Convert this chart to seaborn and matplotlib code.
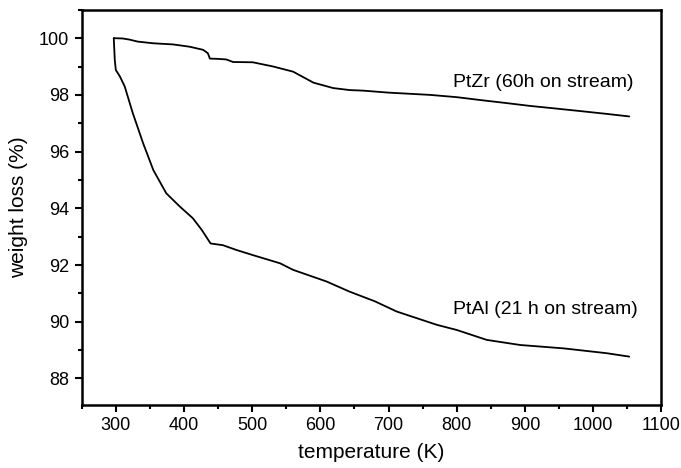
import seaborn as sns
import matplotlib.pyplot as plt
import pandas as pd
from matplotlib.ticker import MultipleLocator

# PtZr (60h on stream)
ptzr_T = [297, 310, 320, 332, 355, 384, 408, 428, 435, 438, 450, 462, 472, 501, 531, 560,
          590, 619, 643, 663, 700, 761, 800, 834, 870, 908, 945, 981, 1020, 1053]
ptzr_w = [100.0, 99.99, 99.95, 99.88, 99.82, 99.78, 99.70, 99.59, 99.47, 99.28, 99.27, 99.25, 99.16,
          99.15, 99.0, 98.82, 98.43, 98.24, 98.17, 98.15, 98.08, 98.0, 97.92, 97.82, 97.72,
          97.61, 97.52, 97.43, 97.33, 97.24]

# PtAl (21 h on stream)
ptal_T = [297, 298.5, 300, 306, 313, 325, 340, 355, 374, 394, 413, 426, 439, 457, 477, 501,
          541, 560, 609, 643, 680, 712, 771, 800, 844, 893, 957, 1020, 1053]
ptal_w = [100.0, 99.23, 98.88, 98.65, 98.3, 97.35, 96.3, 95.35, 94.53, 94.06, 93.65, 93.24,
          92.76, 92.70, 92.53, 92.35, 92.06, 91.83, 91.42, 91.06, 90.72, 90.36, 89.89,
          89.71, 89.36, 89.18, 89.06, 88.89, 88.77]

df = pd.concat([
    pd.DataFrame({'T': ptzr_T, 'w': ptzr_w, 'sample': 'PtZr'}),
    pd.DataFrame({'T': ptal_T, 'w': ptal_w, 'sample': 'PtAl'}),
])

sns.set_style('ticks')
plt.rcParams['font.family'] = ['Liberation Sans', 'DejaVu Sans']
# plain black text, like the scanned figure
plt.rcParams['text.color'] = 'black'
plt.rcParams['axes.labelcolor'] = 'black'
plt.rcParams['xtick.color'] = 'black'
plt.rcParams['ytick.color'] = 'black'

fig, ax = plt.subplots(figsize=(6.81, 4.68), dpi=100)
fig.subplots_adjust(left=0.120, right=0.971, top=0.979, bottom=0.135)

sns.lineplot(data=df, x='T', y='w', units='sample', estimator=None, sort=False,
             color='black', linewidth=1.3, ax=ax)

ax.set_xlim(250, 1100)
ax.set_ylim(87.07, 101.0)
ax.xaxis.set_minor_locator(MultipleLocator(50))
ax.yaxis.set_minor_locator(MultipleLocator(1))
ax.set_xticks(range(300, 1101, 100))
ax.set_yticks(range(88, 101, 2))

for s in ax.spines.values():
    s.set_linewidth(1.8)
    s.set_color('black')
ax.tick_params(which='major', direction='out', length=5, width=1.5, labelsize=13, pad=4)
ax.tick_params(which='minor', direction='out', length=3, width=1.5)

ax.text(927, 98.45, 'PtZr (60h on stream)', ha='center', va='center', fontsize=14)
ax.text(930, 90.42, 'PtAl (21 h on stream)', ha='center', va='center', fontsize=14)

ax.set_xlabel('temperature (K)', fontsize=15, labelpad=6)
ax.set_ylabel('weight loss (%)', fontsize=15, labelpad=8)

plt.savefig('out.png', dpi=100)
